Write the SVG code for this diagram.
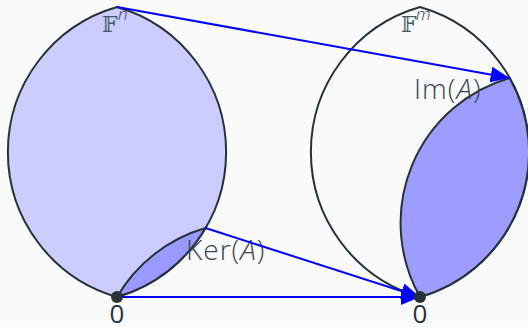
<svg xmlns="http://www.w3.org/2000/svg" width="528" height="327" viewBox="0 0 528 327">
<style>
.lens{stroke:#263238;stroke-width:2;}
.arr{stroke:#0000ff;stroke-width:2;fill:none;marker-end:url(#ah);}
.lbl{font-family:"Open Sans","DejaVu Sans",sans-serif;font-weight:300;fill:#37474f;font-size:28px;letter-spacing:1px;}
.zero{font-family:"Open Sans","DejaVu Sans",sans-serif;font-weight:400;fill:#263238;font-size:26px;}
.bb{font-family:"DejaVu Serif","DejaVu Sans",serif;fill:#455a64;font-size:22px;}
.sup{font-family:"Open Sans","DejaVu Sans",sans-serif;font-style:italic;font-weight:300;fill:#37474f;font-size:17px;}
.dot{fill:#263238;}
</style>
<defs>
<marker id="ah" markerUnits="userSpaceOnUse" markerWidth="20" markerHeight="16" refX="19" refY="8" orient="auto">
<path d="M0,0 L19,8 L0,16 Z" fill="#0000ff"/>
</marker>
</defs>
<rect x="0" y="0" width="528" height="327" fill="#fafafa"/>
<g id="Fn">
<path class="lens" fill="#ccccff" d="M117,297 A150.9,150.9 0 0 1 117,7 A150.9,150.9 0 0 1 117,297 Z"/>
<text class="bb" x="102" y="31.5">𝔽</text>
<text class="sup" x="118" y="20">n</text>
</g>
<g id="Ker">
<path class="lens" fill="#9999ff" d="M117,297 A150.9,150.9 0 0 1 205.5,228 A150.9,150.9 0 0 1 117,297 Z"/>
<text class="lbl" x="186" y="260">Ker(<tspan font-style="italic">A</tspan>)</text>
</g>
<g id="Fm">
<path class="lens" fill="none" d="M420,297 A150.9,150.9 0 0 1 420,7 A150.9,150.9 0 0 1 420,297 Z"/>
<text class="bb" x="401" y="31.5">𝔽</text>
<text class="sup" x="416" y="20">m</text>
</g>
<g id="Im">
<path class="lens" fill="#9d9dff" d="M420,297 A150.9,150.9 0 0 1 509.6,78 A150.9,150.9 0 0 1 420,297 Z"/>
<text class="lbl" x="414" y="99">Im(<tspan font-style="italic">A</tspan>)</text>
</g>
<g id="connectors">
<line class="arr" x1="117" y1="7" x2="509.6" y2="78"/>
<line class="arr" x1="205.5" y1="228" x2="420" y2="297"/>
<line class="arr" x1="117" y1="297" x2="420" y2="297"/>
</g>
<g id="zero-left">
<circle class="dot" cx="117" cy="297" r="6"/>
<text class="zero" x="117" y="323" text-anchor="middle">0</text>
</g>
<g id="zero-right">
<circle class="dot" cx="420" cy="297" r="6"/>
<text class="zero" x="420" y="323" text-anchor="middle">0</text>
</g>
</svg>
